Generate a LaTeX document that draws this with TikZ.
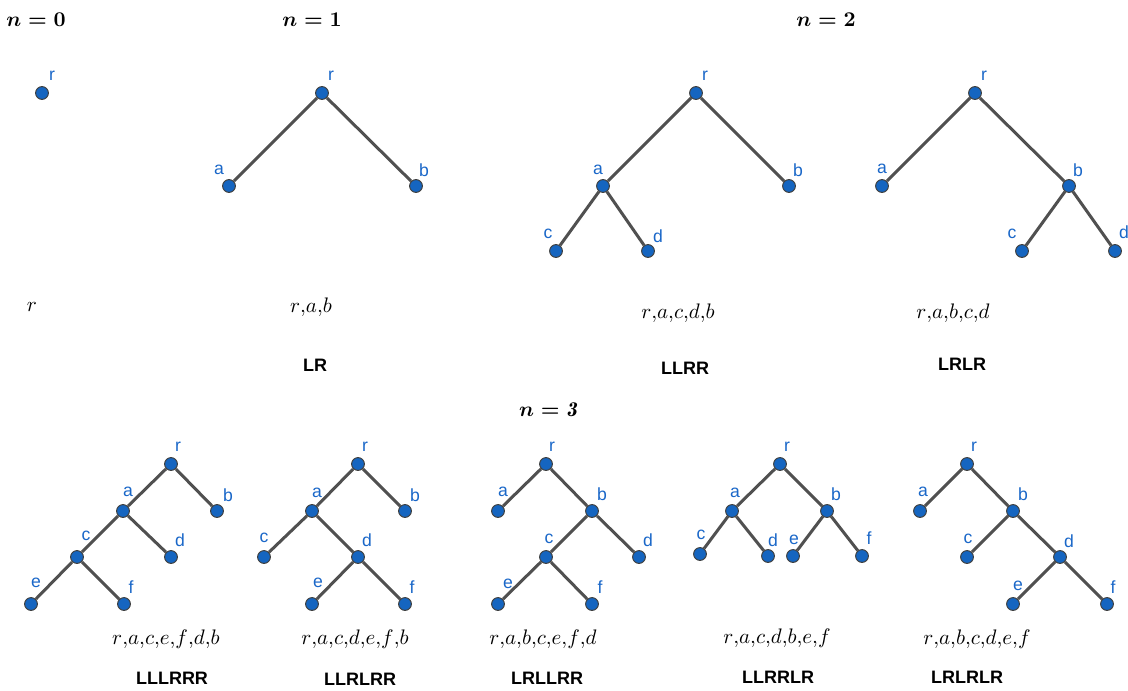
\RequirePackage{fix-cm}
\documentclass[tikz,border=0pt]{standalone}
\usepackage{fontspec}
\setsansfont{Liberation Sans}
\definecolor{nodeblue}{RGB}{21,101,192}
\definecolor{lblblue}{RGB}{26,103,200}
\definecolor{edgegray}{RGB}{80,80,80}
\tikzset{
  dot/.style={circle,fill=nodeblue,draw=black!75,line width=0.5pt,inner sep=0pt,minimum size=6.4pt},
  lbl/.style={text=lblblue,font=\sffamily\fontsize{8.8}{10}\selectfont,inner sep=0pt},
  edge/.style={draw=edgegray,line width=1.5pt},
  seq/.style={font=\fontsize{10.5}{12}\selectfont,inner sep=0pt},
  code/.style={font=\sffamily\bfseries\fontsize{9}{10}\selectfont,inner sep=0pt},
  title/.style={font=\fontsize{10.5}{12}\selectfont\boldmath,inner sep=0pt}
}
\newcommand\pnt[6]{\node[dot,label={[lbl,xshift=#4*0.5pt,yshift=#5*0.5pt]center:#6}] (#1) at (#2,#3) {};}
\begin{document}
\begin{tikzpicture}[x=0.5pt,y=-0.5pt]
\useasboundingbox (0,0) rectangle (1128,690);
% titles
\node[title] (t0) at (36,20) {$n=0$};
\node[title] (t1) at (312,20) {$n=1$};
\node[title] (t2) at (826,20) {$n=2$};
\node[title] (t3) at (548,410) {$n=\mathit{3}$};
% n = 0
\pnt{zr}{42}{93}{10}{17}{r}
\node[seq] (zs) at (32,307) {$r$};
% n = 1
\pnt{or}{322}{93}{9}{17}{r}
\pnt{oa}{229}{186}{-10}{16}{a}
\pnt{ob}{416}{186}{8}{16}{b}
\draw[edge] (or) -- (oa) (or) -- (ob);
\node[seq] (os) at (311,307) {$r{,}a{,}b$};
\node[code] (oc) at (315,365) {LR};
% n = 2, tree 1
\pnt{pr}{696}{93}{9}{17}{r}
\pnt{pa}{603}{186}{-5}{16}{a}
\pnt{pb}{789}{186}{9}{16}{b}
\pnt{pc}{556}{251}{-8}{17}{c}
\pnt{pd}{648}{251}{10}{15}{d}
\draw[edge] (pr) -- (pa) (pr) -- (pb) (pa) -- (pc) (pa) -- (pd);
\node[seq] (ps) at (678,313) {$r{,}a{,}c{,}d{,}b$};
\node[code] (pcode) at (685,368) {LLRR};
% n = 2, tree 2
\pnt{qr}{975}{93}{9}{17}{r}
\pnt{qa}{882}{186}{0}{17}{a}
\pnt{qb}{1069}{186}{9}{16}{b}
\pnt{qc}{1022}{251}{-10}{17}{c}
\pnt{qd}{1115}{251}{9}{19}{d}
\draw[edge] (qr) -- (qa) (qr) -- (qb) (qb) -- (qc) (qb) -- (qd);
\node[seq] (qs) at (953,313) {$r{,}a{,}b{,}c{,}d$};
\node[code] (qcode) at (962,364) {LRLR};
% n = 3, tree A
\pnt{ar}{171}{464}{7}{17}{r}
\pnt{aa}{123}{511}{5}{19}{a}
\pnt{ab}{217}{511}{11}{16}{b}
\pnt{ac}{77}{557}{9}{21}{c}
\pnt{ad}{171}{557}{9}{17}{d}
\pnt{ae}{31}{604}{5}{21}{e}
\pnt{af}{124}{604}{7}{17}{f}
\draw[edge] (ar) -- (aa) (ar) -- (ab) (aa) -- (ac) (aa) -- (ad) (ac) -- (ae) (ac) -- (af);
\node[seq] (as) at (166,639) {$r{,}a{,}c{,}e{,}f{,}d{,}b$};
\node[code] (acode) at (172,678) {LLLRRR};
% tree B
\pnt{br}{358}{464}{7}{17}{r}
\pnt{ba}{312}{511}{5}{18}{a}
\pnt{bb}{405}{511}{10}{16}{b}
\pnt{bc}{264}{557}{0}{19}{c}
\pnt{bd}{358}{557}{9}{17}{d}
\pnt{be}{312}{604}{6}{21}{e}
\pnt{bf}{405}{604}{7}{17}{f}
\draw[edge] (br) -- (ba) (br) -- (bb) (ba) -- (bc) (ba) -- (bd) (bd) -- (be) (bd) -- (bf);
\node[seq] (bs) at (355,639) {$r{,}a{,}c{,}d{,}e{,}f{,}b$};
\node[code] (bcode) at (360,679) {LLRLRR};
% tree C
\pnt{cr}{546}{464}{6}{17}{r}
\pnt{ca}{498}{511}{5}{19}{a}
\pnt{cb}{592}{511}{10}{17}{b}
\pnt{cc}{546}{557}{3}{18}{c}
\pnt{cd}{639}{557}{9}{17}{d}
\pnt{ce}{498}{604}{10}{20}{e}
\pnt{cf}{592}{604}{8}{17}{f}
\draw[edge] (cr) -- (ca) (cr) -- (cb) (cb) -- (cc) (cb) -- (cd) (cc) -- (ce) (cc) -- (cf);
\node[seq] (cs) at (543,639) {$r{,}a{,}b{,}c{,}e{,}f{,}d$};
\node[code] (ccode) at (547,678) {LRLLRR};
% tree D
\pnt{dr}{780}{464}{7}{17}{r}
\pnt{da}{732}{511}{3}{18}{a}
\pnt{db}{827}{511}{9}{17}{b}
\pnt{dc}{700}{554}{1}{19}{c}
\pnt{dd}{768}{556}{5}{16}{d}
\pnt{de}{793}{556}{1}{16}{e}
\pnt{df}{862}{556}{7}{18}{f}
\draw[edge] (dr) -- (da) (dr) -- (db) (da) -- (dc) (da) -- (dd) (db) -- (de) (db) -- (df);
\node[seq] (ds) at (777,638) {$r{,}a{,}c{,}d{,}b{,}e{,}f$};
\node[code] (dcode) at (778,677) {LLRRLR};
% tree E
\pnt{er}{967}{464}{7}{17}{r}
\pnt{ea}{920}{511}{3}{19}{a}
\pnt{eb}{1013}{511}{10}{17}{b}
\pnt{ec}{967}{557}{1}{18}{c}
\pnt{ed}{1060}{557}{9}{16}{d}
\pnt{ee}{1013}{604}{5}{18}{e}
\pnt{ef}{1107}{604}{6}{17}{f}
\draw[edge] (er) -- (ea) (er) -- (eb) (eb) -- (ec) (eb) -- (ed) (ed) -- (ee) (ed) -- (ef);
\node[seq] (es) at (977,639) {$r{,}a{,}b{,}c{,}d{,}e{,}f$};
\node[code] (ecode) at (967,677) {LRLRLR};
\end{tikzpicture}
\end{document}
